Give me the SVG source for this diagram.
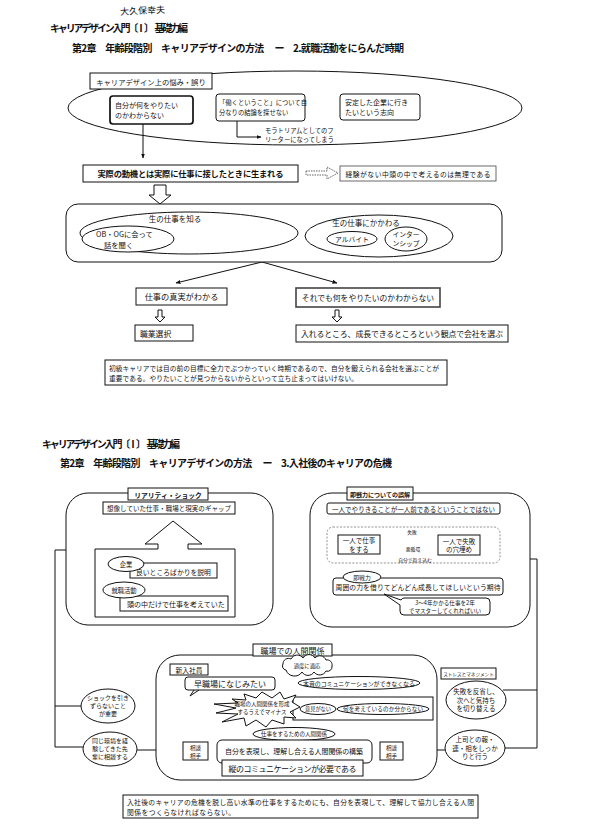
<svg xmlns="http://www.w3.org/2000/svg" width="590" height="824" viewBox="0 0 590 824">
<defs>
<marker id="ah" viewBox="0 0 10 10" refX="9" refY="5" markerWidth="5" markerHeight="5" orient="auto"><path d="M0,1 L10,5 L0,9 Z" fill="#111"/></marker>
</defs>
<style>
text{font-family:"Noto Sans CJK JP","Noto Sans CJK SC",sans-serif;fill:#111}
.b{fill:#fff;stroke:#111;stroke-width:1}
.bb{fill:#fff;stroke:#111;stroke-width:1.7}
.ln{fill:none;stroke:#111;stroke-width:1}
.m{text-anchor:middle}
.t{font-weight:bold;font-size:10px}
</style>
<rect width="590" height="824" fill="#fff"/>

<g id="handwriting"><text x="120" y="14" font-size="9" fill="#333" transform="rotate(-3 140 10)">大久保幸夫</text></g>
<g id="title-top">
<text class="t" x="50" y="32" textLength="138">キャリアデザイン入門〔Ⅰ〕　基礎力編</text>
<text class="t" x="72" y="52" textLength="332">第2章　年齢段階別　キャリアデザインの方法　 ー　2.就職活動をにらんだ時期</text>
</g>

<g id="connectors">
<path class="ln" d="M237,121 V137 H261" marker-end="url(#ah)"/>
<path class="ln" d="M143,124 V158" marker-end="url(#ah)"/>
<path d="M306,171 H327 V167 L338,173 L327,179 V175 H306 Z" fill="#fff" stroke="#555" stroke-width="0.9" stroke-dasharray="1.5,1"/>
<path class="b" d="M154,185 H166 V195 H171 L160,204 L149,195 H154 Z"/>
<path class="ln" d="M262,262 L176,283" marker-end="url(#ah)"/>
<path class="ln" d="M262,262 L337,283" marker-end="url(#ah)"/>
<path class="b" d="M158,310 H162 V317 H165 L160,322 L155,317 H158 Z"/>
<path class="b" d="M335,310 H339 V317 H342 L337,322 L332,317 H335 Z"/>
<path class="ln" d="M66,550 H55 V747 H83"/>
<path class="ln" d="M55,706 H81"/>
<path class="ln" d="M530,559 H537 V748 H505"/>
<path class="ln" d="M503,690 H537"/>
<path class="ln" d="M137,750 H183"/>
<path class="ln" d="M403,750 H445"/>
<path class="ln" d="M275,683 H297" marker-end="url(#ah)"/>
<path class="ln" d="M352,690 V697" marker-end="url(#ah)"/>
<path class="ln" d="M396,538 H427" marker-end="url(#ah)"/>
<path class="ln" d="M427,555 H396" marker-end="url(#ah)"/>
</g>

<g id="worries">
<ellipse class="ln" cx="295" cy="108" rx="227" ry="37"/>
<rect class="b" x="90" y="73" width="122" height="16"/>
<text class="m" x="151" y="84.5" font-size="7.3">キャリアデザイン上の悩み・誤り</text>
</g>
<g id="node-a">
<rect class="bb" x="110" y="96" width="83" height="28" rx="3"/>
<text x="115" y="107.5" font-size="7">自分が何をやりたい</text>
<text x="115" y="118" font-size="7">のかわからない</text>
</g>
<g id="node-b">
<rect class="b" x="216" y="94" width="89" height="27" rx="3"/>
<text x="219" y="104.5" font-size="6.3">「働くということ」について自</text>
<text x="219" y="115" font-size="6.3">分なりの結論を探せない</text>
</g>
<g id="node-c">
<rect class="b" x="340" y="94" width="80" height="26" rx="3"/>
<text x="345" y="105" font-size="7">安定した企業に行き</text>
<text x="345" y="115" font-size="7">たいという志向</text>
</g>
<g id="moratorium">
<text x="265" y="133" font-size="6.3">モラトリアムとしてのフ</text>
<text x="265" y="142" font-size="6.3">リーターになってしまう</text>
</g>
<g id="motive">
<rect class="b" x="83" y="165" width="215" height="17"/>
<text class="m" x="190.5" y="177" font-size="8.3" font-weight="bold" textLength="186">実際の動機とは実際に仕事に接したときに生まれる</text>
</g>
<g id="experience">
<rect x="340" y="166" width="156" height="15" fill="#fff" stroke="#444" stroke-width="0.8"/>
<text class="m" x="418" y="176.5" font-size="6.8" textLength="145">経験がない中頭の中で考えるのは無理である</text>
</g>
<g id="real-work">
<rect class="b" x="66" y="204" width="436" height="58" rx="12"/>
<ellipse class="ln" cx="189" cy="233" rx="109" ry="21"/>
<text class="m" x="175" y="222" font-size="7.5">生の仕事を知る</text>
<ellipse class="b" cx="128" cy="239" rx="46" ry="13"/>
<text x="96" y="237" font-size="7.3">OB・OGに会って</text>
<text x="104" y="248" font-size="7.3">話を聞く</text>
<ellipse class="ln" cx="379" cy="236" rx="74" ry="21"/>
<text class="m" x="366" y="226" font-size="7.5">生の仕事にかかわる</text>
<ellipse class="b" cx="352" cy="239" rx="25" ry="7.5"/>
<text class="m" x="352" y="241.5" font-size="6.8">アルバイト</text>
<ellipse class="b" cx="406" cy="239" rx="21" ry="12"/>
<text class="m" x="406" y="236.5" font-size="6.8">インター</text>
<text class="m" x="406" y="246" font-size="6.8">ンシップ</text>
</g>
<g id="truth">
<rect class="b" x="136" y="288" width="91" height="17" stroke-width="1.5"/>
<text class="m" x="181.5" y="300" font-size="8.2">仕事の真実がわかる</text>
</g>
<g id="still">
<rect x="296" y="288" width="144" height="19" fill="#fff" stroke="#444" stroke-width="1.6"/>
<text class="m" x="368" y="301" font-size="7.8">それでも何をやりたいのかわからない</text>
</g>
<g id="job-select">
<rect class="b" x="135" y="325" width="58" height="16" stroke-width="1.3"/>
<text x="140" y="336.5" font-size="7.8">職業選択</text>
</g>
<g id="choose">
<rect class="b" x="296" y="325" width="212" height="17" stroke-width="2"/>
<text class="m" x="402" y="337" font-size="7.9" textLength="202">入れるところ、成長できるところという観点で会社を選ぶ</text>
</g>
<g id="note-top">
<rect class="b" x="105" y="360" width="342" height="25" stroke-width="0.9"/>
<text x="109" y="370.5" font-size="6.7" textLength="330">初級キャリアでは目の前の目標に全力でぶつかっていく時期であるので、自分を鍛えられる会社を選ぶことが</text>
<text x="109" y="381" font-size="6.7" textLength="249">重要である。やりたいことが見つからないからといって立ち止まってはいけない。</text>
</g>

<g id="title-bottom">
<text class="t" x="42" y="448" textLength="138">キャリアデザイン入門〔Ⅰ〕　基礎力編</text>
<text class="t" x="60" y="467" textLength="332">第2章　年齢段階別　キャリアデザインの方法　 ー　3.入社後のキャリアの危機</text>
</g>

<g id="reality-shock">
<rect class="b" x="66" y="493" width="207" height="132" rx="22"/>
<rect class="b" x="128" y="488" width="80" height="12"/>
<text class="m" x="168" y="497.5" font-size="6.8" font-weight="bold">リアリティ・ショック</text>
<rect class="b" x="103" y="502" width="132" height="12"/>
<text class="m" x="169" y="511" font-size="6.5" textLength="124">想像していた仕事・職場と現実のギャップ</text>
<path class="b" d="M95,549 H158 V544 H145 L173,521 L202,544 H188 V549 H235 V617 H95 Z"/>
<rect class="b" x="130" y="563" width="87" height="15"/>
<text x="136" y="574.5" font-size="6.8">良いところばかりを説明</text>
<ellipse class="b" cx="126" cy="564" rx="18" ry="7.5"/>
<text class="m" x="126" y="566.5" font-size="6.3">企業</text>
<rect class="b" x="120" y="596" width="108" height="15"/>
<text x="127" y="607" font-size="7">頭の中だけで仕事を考えていた</text>
<ellipse class="b" cx="124" cy="590" rx="21" ry="8"/>
<text class="m" x="124" y="592.5" font-size="6.3">就職活動</text>
</g>

<g id="misunderstanding">
<rect class="b" x="310" y="493" width="220" height="134" rx="22"/>
<rect class="b" x="347" y="487" width="66" height="13"/>
<text class="m" x="380" y="497" font-size="6" font-weight="bold">即戦力についての誤解</text>
<rect class="b" x="327" y="503" width="173" height="11" rx="2"/>
<text class="m" x="413.5" y="511.5" font-size="6.5" textLength="163">一人でやりきることが一人前であるということではない</text>
<rect x="327" y="527" width="173" height="36" rx="6" fill="none" stroke="#777" stroke-width="0.8" stroke-dasharray="2,1.5"/>
<rect class="b" x="338" y="535" width="42" height="19"/>
<text class="m" x="359" y="543" font-size="6.5">一人で仕事</text>
<text class="m" x="359" y="551.5" font-size="6.5">をする</text>
<rect class="b" x="438" y="535" width="42" height="20"/>
<text class="m" x="459" y="543.5" font-size="6.5">一人で失敗</text>
<text class="m" x="459" y="552" font-size="6.5">の穴埋め</text>
<text class="m" x="412" y="534" font-size="4.8">失敗</text>
<text class="m" x="413" y="550.5" font-size="4.8">悪循環</text>
<text class="m" x="415" y="561.5" font-size="4.8">自分で抱え込む</text>
<rect class="b" x="333" y="578" width="170" height="17" rx="3"/>
<text class="m" x="418" y="589.5" font-size="6.8" textLength="165">周囲の力を借りてどんどん成長してほしいという期待</text>
<ellipse class="b" cx="362" cy="577" rx="19" ry="6"/>
<text class="m" x="362" y="579.5" font-size="5.8">即戦力</text>
<path class="b" d="M404,598 H486 A4,4 0 0 1 490,602 V611 A4,4 0 0 1 486,615 H404 A4,4 0 0 1 400,611 V605 L384,594 L401,600 A4,4 0 0 1 404,598 Z"/>
<text class="m" x="445" y="605" font-size="5.6">3〜4年かかる仕事を2年</text>
<text class="m" x="445" y="612.5" font-size="5.6">でマスターしてくれればいい</text>
</g>

<g id="relations">
<rect class="b" x="156" y="655" width="281" height="125" rx="24"/>
<rect class="b" x="253" y="644" width="79" height="12"/>
<text class="m" x="292.5" y="653.5" font-size="8">職場での人間関係</text>
<rect class="b" x="170" y="664" width="38" height="11"/>
<text class="m" x="189" y="672.5" font-size="6.8">新入社員</text>
<rect class="b" x="185" y="677" width="90" height="13" rx="3"/>
<path class="ln" d="M194,690 L190,696 L199,690"/>
<text class="m" x="230" y="687" font-size="8">早職場になじみたい</text>
<path class="b" d="M286,670 A4,4 0 0 1 283,664 A5.5,5.5 0 0 1 291,659 A7,7 0 0 1 303,658 A7,7 0 0 1 315,658 A6.5,6.5 0 0 1 326,660 A5,5 0 0 1 332,666 A4.5,4.5 0 0 1 326,671 A7,7 0 0 1 314,672 A7,7 0 0 1 302,672 A9,9 0 0 1 286,670 Z"/>
<text class="m" x="307" y="667.5" font-size="5.3">過度に適応</text>
<ellipse class="b" cx="359" cy="683" rx="61" ry="6.5"/>
<text class="m" x="359" y="685.5" font-size="6" textLength="112">本音のコミュニケーションができなくなる</text>
<rect class="b" x="293" y="697" width="140" height="23"/>
<ellipse class="b" cx="318" cy="709" rx="18" ry="5.5"/>
<text class="m" x="318" y="711" font-size="5.2">意見がない</text>
<ellipse class="b" cx="383" cy="709" rx="46" ry="5.5"/>
<text class="m" x="383" y="711" font-size="5.6" textLength="80">何を考えているのか分からない</text>
<polygon class="b" points="300,707 292,702 296,695 284,699 280,692 272,698 262,692 256,698 244,694 246,700 232,699 238,703 214,704 236,708 216,713 238,714 222,722 244,718 246,726 256,720 266,727 272,720 284,724 284,717 296,718 290,712"/>
<text class="m" x="262" y="706" font-size="5.5">職場の人間関係を形成</text>
<text class="m" x="262" y="713.5" font-size="5.5">するうえでマイナス</text>
<ellipse class="b" cx="294" cy="734" rx="41" ry="6.5"/>
<text class="m" x="294" y="736" font-size="5.5">仕事をするための人間関係</text>
<rect class="b" x="217" y="740" width="155" height="23" rx="5"/>
<text class="m" x="294" y="754" font-size="7" textLength="138">自分を表現し、理解し合える人間関係の構築</text>
<rect class="b" x="222" y="760" width="141" height="16"/>
<text class="m" x="292.5" y="772" font-size="8" textLength="128">縦のコミュニケーションが必要である</text>
</g>
<g id="advisor-left">
<rect class="b" x="183" y="742" width="25" height="18"/>
<text class="m" x="195.5" y="749.5" font-size="5.5">相談</text>
<text class="m" x="195.5" y="757.5" font-size="5.5">相手</text>
</g>
<g id="advisor-right">
<rect class="b" x="380" y="742" width="23" height="18"/>
<text class="m" x="391.5" y="749.5" font-size="5.5">相談</text>
<text class="m" x="391.5" y="757.5" font-size="5.5">相手</text>
</g>
<g id="shock">
<ellipse class="b" cx="108" cy="706" rx="27" ry="17"/>
<text class="m" x="108" y="700" font-size="6">ショックを引き</text>
<text class="m" x="108" y="708" font-size="6">ずらないこと</text>
<text class="m" x="108" y="716" font-size="6">が重要</text>
</g>
<g id="senior">
<ellipse class="b" cx="110" cy="749" rx="27" ry="17"/>
<text class="m" x="110" y="743" font-size="6">同じ環境を経</text>
<text class="m" x="110" y="751" font-size="6">験してきた先</text>
<text class="m" x="110" y="759" font-size="6">輩に相談する</text>
</g>
<g id="stress">
<ellipse class="b" cx="476" cy="700" rx="30" ry="19"/>
<text class="m" x="476" y="694" font-size="6.5">失敗を反省し、</text>
<text class="m" x="476" y="702.5" font-size="6.5">次へと気持ち</text>
<text class="m" x="476" y="711" font-size="6.5">を切り替える</text>
<rect class="b" x="441" y="668" width="55" height="11"/>
<text class="m" x="468.5" y="676" font-size="4.6">ストレスとマネジメント</text>
</g>
<g id="boss">
<ellipse class="b" cx="475" cy="748" rx="30" ry="18"/>
<text class="m" x="475" y="742" font-size="6.5">上司との報・</text>
<text class="m" x="475" y="750.5" font-size="6.5">連・相をしっか</text>
<text class="m" x="475" y="759" font-size="6.5">りと行う</text>
</g>
<g id="note-bottom">
<rect class="b" x="123" y="795" width="355" height="23" stroke-width="0.9"/>
<text x="127" y="804.5" font-size="6.8" textLength="347">入社後のキャリアの危機を脱し高い水準の仕事をするためにも、自分を表現して、理解して協力し合える人間</text>
<text x="127" y="814.5" font-size="6.8" textLength="108">関係をつくらなければならない。</text>
</g>
</svg>
